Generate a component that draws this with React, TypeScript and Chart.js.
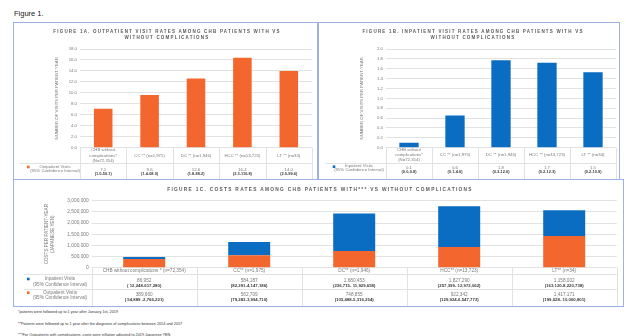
import React, { useEffect, useRef } from 'react';
import { Chart, registerables } from 'chart.js';
Chart.register(...registerables);

// ---------- DATA ----------
const categoriesAB = [
  ['CHB without', 'complications*', '(N=72,354)'],
  ['CC ** (n=1,975)'],
  ['DC ** (n=1,946)'],
  ['HCC ** (n=13,723)'],
  ['LT ** (n=34)'],
];
const outpatientRates = [7.1, 9.6, 12.6, 16.4, 14.0];
const outpatientRateLabels = ['7.1', '9.6', '12.6', '16.4', '14.0'];
const outpatientRateCIs = ['(1.0-50.1)', '(1.4-68.0)', '(1.8-89.2)', '(2.3-116.8)', '(2.0-99.6)'];

const inpatientRates = [0.1, 0.65, 1.77, 1.72, 1.53];
const inpatientRateLabels = ['0.1', '0.6', '1.8', '1.7', '1.5'];
const inpatientRateCIs = ['(0.0-0.8)', '(0.1-4.6)', '(0.3-12.6)', '(0.2-12.3)', '(0.2-10.9)'];

const categoriesC = [
  ['CHB without complications * (n=72,354)'],
  ['CC** (n=1,975)'],
  ['DC** (n=1,946)'],
  ['HCC** (n=13,723)'],
  ['LT** (n=34)'],
];
const inpatientCosts = [86952, 584187, 1680453, 1827290, 1158002];
const inpatientCostCIs = ['( 12,248-617,280)', '(82,291-4,147,186)', '(236,715- 11,929,658)', '(257,399- 12,972,062)', '(163,120-8,220,738)'];
const outpatientCosts = [389660, 562709, 748855, 922342, 1417171];
const outpatientCostCIs = ['( 54,889 -2,766,221)', '(79,283-3,994,710)', '(105,488-5,316,254)', '(129,924-6,547,772)', '(199,628- 10,060,801)'];

const footnotes = [
  '*patients were followed up to 1 year after January 1st, 2019',
  '**Patients were followed up to 1 year after the diagnosis of complications between 2014 and 2017',
  '***For Outpatients with complications, costs were inflation adjusted to 2019 Japanese YEN',
];

// ---------- STYLE ----------
const ORANGE = '#F3672F';
const BLUE = '#0A6DC2';
const FAMILY = '"Liberation Sans", Arial, sans-serif';
const GRID = '#E2E2E2';
const TXT = '#7A7A7A';
const CI = '#3A3A3A';
const BORDER = '#9DB2DE';

function makeTable(cfg: any) {
  return {
    id: 'dataTable',
    afterDraw(chart: any) {
      const { ctx, chartArea } = chart;
      const { left, right, bottom } = chartArea;
      const xs = chart.scales.x;
      const n = chart.data.labels.length;
      const colW = (right - left) / n;
      const H = chart.height;
      ctx.save();
      ctx.strokeStyle = GRID;
      ctx.lineWidth = 1;
      ctx.beginPath();
      for (let i = 0; i <= n; i++) {
        const x = Math.round(left + i * colW) + 0.5;
        ctx.moveTo(x, bottom);
        ctx.lineTo(x, H);
      }
      let y = bottom + cfg.labelH;
      const tops: number[] = [];
      cfg.rows.forEach((r: any) => {
        const yy = Math.round(y) + 0.5;
        ctx.moveTo(cfg.lineLeft, yy);
        ctx.lineTo(right, yy);
        tops.push(y);
        y += r.h;
      });
      ctx.stroke();
      ctx.textAlign = 'center';
      ctx.textBaseline = 'middle';
      const normal = `${cfg.fontSize}px ${FAMILY}`;
      const bold = `bold ${cfg.fontSize * 0.92}px ${FAMILY}`;
      ctx.font = normal;
      ctx.fillStyle = TXT;
      chart.data.labels.forEach((lab: any, i: number) => {
        const lines = Array.isArray(lab) ? lab : [lab];
        const cx = xs.getPixelForValue(i);
        const mid = bottom + cfg.labelMid;
        lines.forEach((t: string, k: number) =>
          ctx.fillText(t, cx, mid + (k - (lines.length - 1) / 2) * cfg.lineH)
        );
      });
      const s = cfg.square;
      cfg.rows.forEach((r: any, ri: number) => {
        const top = tops[ri];
        ctx.fillStyle = r.color;
        ctx.fillRect(cfg.squareX - s / 2, top + r.squareY - s / 2, s, s);
        ctx.font = normal;
        ctx.fillStyle = TXT;
        r.legend.forEach((t: string, k: number) => ctx.fillText(t, cfg.legendX, top + r.legendY[k]));
        r.values.forEach((v: string, i: number) => {
          const cx = xs.getPixelForValue(i);
          ctx.font = normal;
          ctx.fillStyle = TXT;
          ctx.fillText(v, cx, top + r.valueY);
          ctx.font = bold;
          ctx.fillStyle = CI;
          ctx.fillText(r.cis[i], cx, top + r.ciY);
        });
      });
      ctx.restore();
    },
  };
}

function yScale(opts: any) {
  return {
    min: 0,
    max: opts.max,
    stacked: !!opts.stacked,
    ticks: {
      stepSize: opts.step,
      callback: opts.fmt,
      font: { size: opts.tickSize, family: FAMILY },
      color: TXT,
      padding: 3,
    },
    grid: { color: GRID, drawTicks: false },
    border: { display: false },
    title: {
      display: true,
      text: opts.title,
      font: { size: opts.titleSize, family: FAMILY, lineHeight: opts.titleLH || 1.2 },
      color: TXT,
      padding: { top: opts.titlePad, bottom: 0 },
    },
    afterFit: (sc: any) => {
      sc.width = opts.width;
    },
  };
}

function useChart(ref: any, makeConfig: () => any) {
  useEffect(() => {
    const chart = new Chart(ref.current, makeConfig());
    return () => chart.destroy();
  }, []);
}

const commonOpts = {
  animation: false,
  responsive: false,
  maintainAspectRatio: false,
  events: [],
};

function ChartA() {
  const ref = useRef<HTMLCanvasElement>(null);
  useChart(ref, () => ({
    type: 'bar',
    data: {
      labels: categoriesAB,
      datasets: [
        { label: 'Outpatient Visits', data: outpatientRates, backgroundColor: ORANGE, barPercentage: 0.4, categoryPercentage: 1 },
      ],
    },
    options: {
      ...commonOpts,
      layout: { padding: { left: 38, right: 5, top: 26, bottom: 31.3 } },
      plugins: { legend: { display: false }, tooltip: { enabled: false } },
      scales: {
        x: { display: false },
        y: yScale({ max: 18, step: 2, fmt: (v: number) => v.toFixed(1), tickSize: 4.3, title: 'NUMBER OF VISITS PER PATIENT-YEAR', titleSize: 4.3, titlePad: 2, width: 28 }),
      },
    },
    plugins: [
      makeTable({
        labelH: 15.6, labelMid: 7.8, lineH: 5.5, lineLeft: 6, fontSize: 4.3, square: 2.6, squareX: 14.3, legendX: 41,
        rows: [
          { color: ORANGE, legend: ['Outpatient Visits', '(95% Confidence Interval)'], legendY: [3.4, 7.4], squareY: 3.7, valueY: 6.7, ciY: 11, h: 20, values: outpatientRateLabels, cis: outpatientRateCIs },
        ],
      }),
    ],
  }));
  return <canvas ref={ref} width={303} height={156} style={{ display: 'block' }} />;
}

function ChartB() {
  const ref = useRef<HTMLCanvasElement>(null);
  useChart(ref, () => ({
    type: 'bar',
    data: {
      labels: categoriesAB,
      datasets: [
        { label: 'Inpatient Visits', data: inpatientRates, backgroundColor: BLUE, barPercentage: 0.42, categoryPercentage: 1 },
      ],
    },
    options: {
      ...commonOpts,
      layout: { padding: { left: 38, right: 3, top: 26, bottom: 31.3 } },
      plugins: { legend: { display: false }, tooltip: { enabled: false } },
      scales: {
        x: { display: false },
        y: yScale({ max: 2, step: 0.2, fmt: (v: number) => v.toFixed(1), tickSize: 4.3, title: 'NUMBER OF VISITS PER PATIENT-YEAR', titleSize: 4.3, titlePad: 2, width: 29 }),
      },
    },
    plugins: [
      makeTable({
        labelH: 15, labelMid: 7, lineH: 5.3, lineLeft: 6, fontSize: 4.3, square: 2.6, squareX: 15, legendX: 40,
        rows: [
          { color: BLUE, legend: ['Inpatient Visits', '(95% Confidence Interval)'], legendY: [3.3, 7.3], squareY: 4, valueY: 5, ciY: 9.3, h: 20, values: inpatientRateLabels, cis: inpatientRateCIs },
        ],
      }),
    ],
  }));
  return <canvas ref={ref} width={300} height={156} style={{ display: 'block' }} />;
}

function ChartC() {
  const ref = useRef<HTMLCanvasElement>(null);
  useChart(ref, () => ({
    type: 'bar',
    data: {
      labels: categoriesC,
      datasets: [
        { label: 'Outpatient Visits', data: outpatientCosts, backgroundColor: ORANGE, barPercentage: 0.4, categoryPercentage: 1 },
        { label: 'Inpatient Visits', data: inpatientCosts, backgroundColor: BLUE, barPercentage: 0.4, categoryPercentage: 1 },
      ],
    },
    options: {
      ...commonOpts,
      layout: { padding: { left: 29, right: 6.3, top: 20.7, bottom: 38.3 } },
      plugins: { legend: { display: false }, tooltip: { enabled: false } },
      scales: {
        x: { display: false, stacked: true },
        y: yScale({ max: 3000000, step: 500000, stacked: true, fmt: (v: number) => v.toLocaleString('en-US'), tickSize: 4.8, title: ['COSTS PER PATIENT-YEAR', '(JAPANESE YEN)'], titleSize: 4.6, titleLH: 1.2, titlePad: 1, width: 48.7 }),
      },
    },
    plugins: [
      makeTable({
        labelH: 6.6, labelMid: 3.3, lineH: 5.5, lineLeft: 10, fontSize: 4.7, square: 2.6, squareX: 14.3, legendX: 46,
        rows: [
          { color: BLUE, legend: ['Inpatient Visits', '(95% Confidence Interval)'], legendY: [4.7, 10], squareY: 4.7, valueY: 6.7, ciY: 11.4, h: 15, values: inpatientCosts.map((v) => v.toLocaleString('en-US')), cis: inpatientCostCIs },
          { color: ORANGE, legend: ['Outpatient Visits', '(95% Confidence Interval)'], legendY: [3.4, 8.7], squareY: 3.4, valueY: 5.7, ciY: 10.4, h: 20, values: outpatientCosts.map((v) => v.toLocaleString('en-US')), cis: outpatientCostCIs },
        ],
      }),
    ],
  }));
  return <canvas ref={ref} width={609} height={126} style={{ display: 'block' }} />;
}

function Panel({ left, top, width, height, children }: any) {
  return (
    <div style={{ position: 'absolute', left, top, width, height, boxSizing: 'border-box', border: `1px solid ${BORDER}` }}>
      {children}
    </div>
  );
}

function Title({ cx, top, lines, size, spacing }: any) {
  return (
    <div
      style={{
        position: 'absolute', left: cx - 260, top, width: 520, textAlign: 'center', fontFamily: FAMILY,
        fontWeight: 'bold', fontSize: size, letterSpacing: spacing, lineHeight: '5.7px', color: '#595959', whiteSpace: 'nowrap',
      }}
    >
      {lines.map((l: string, i: number) => (
        <div key={i}>{l}</div>
      ))}
    </div>
  );
}

export default function App() {
  return (
    <div style={{ position: 'fixed', left: 0, top: 0, width: 626, height: 336, background: '#fff', overflow: 'hidden', fontFamily: FAMILY }}>
      <div style={{ position: 'absolute', left: 14, top: 9, fontSize: 7.5, color: '#222', lineHeight: '9px' }}>Figure 1.</div>
      <Panel left={13} top={22} width={305} height={158}>
        <ChartA />
      </Panel>
      <Panel left={318} top={22} width={302} height={158}>
        <ChartB />
      </Panel>
      <Panel left={13} top={179} width={611} height={128}>
        <ChartC />
      </Panel>
      <Title cx={167} top={29.2} size={4.5} spacing={1.2} lines={['FIGURE 1A.  OUTPATIENT VISIT RATES AMONG CHB PATIENTS WITH VS', 'WITHOUT COMPLICATIONS']} />
      <Title cx={473} top={29.2} size={4.5} spacing={1.2} lines={['FIGURE 1B.  INPATIENT VISIT RATES AMONG CHB PATIENTS WITH VS', 'WITHOUT COMPLICATIONS']} />
      <Title cx={320} top={186.5} size={4.8} spacing={1.3} lines={['FIGURE 1C. COSTS RATES AMONG CHB PATIENTS WITH*** VS WITHOUT COMPLICATIONS']} />
      {footnotes.map((f, i) => (
        <div key={i} style={{ position: 'absolute', left: 18, top: [310, 322, 332.5][i], fontSize: 3.8, lineHeight: '4px', color: '#333', whiteSpace: 'nowrap' }}>
          {f}
        </div>
      ))}
    </div>
  );
}
